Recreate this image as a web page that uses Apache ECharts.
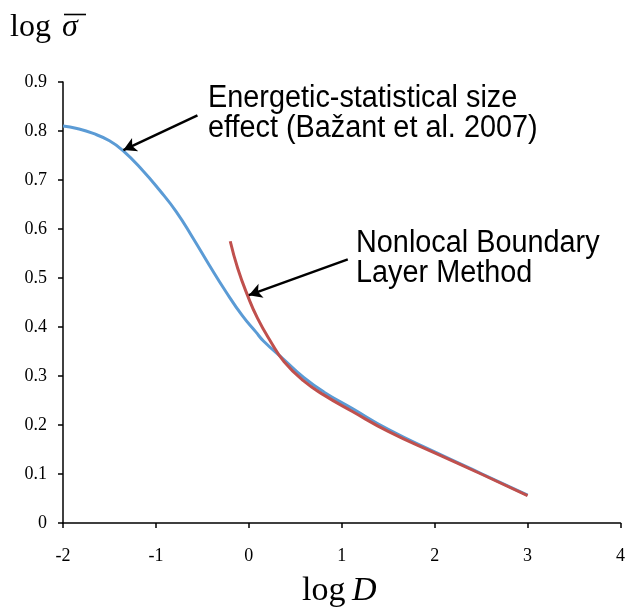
<!DOCTYPE html>
<html>
<head>
<meta charset="utf-8">
<script src="https://cdn.jsdelivr.net/npm/echarts@6/dist/echarts.min.js"></script>
<style>
  html, body { margin: 0; padding: 0; background: #fff; }
  #chart { width: 628px; height: 608px; }
</style>
</head>
<body>
<div id="chart"></div>
<script>
// size effect curves
var blueX = [-2, -1.85, -1.675, -1.5, -1.354, -1.14, -0.96, -0.78, -0.6, -0.425, -0.25, -0.07, 0.075, 0.16, 0.38, 0.59, 0.81, 1.11, 1.5, 2, 2.5, 3];
var blueY = [0.810, 0.805, 0.795, 0.780, 0.760, 0.719, 0.679, 0.635, 0.581, 0.526, 0.473, 0.423, 0.390, 0.371, 0.333, 0.297, 0.267, 0.234, 0.191, 0.145, 0.101, 0.057];
var redX = [-0.2, -0.12, -0.015, 0.093, 0.236, 0.38, 0.59, 0.81, 1.11, 1.5, 2, 2.5, 3];
var redY = [0.575, 0.520, 0.465, 0.418, 0.370, 0.329, 0.290, 0.261, 0.228, 0.187, 0.143, 0.100, 0.056];
var xTicks = [-2, -1, 0, 1, 2, 3, 4];
var yTicks = [0, 0.1, 0.2, 0.3, 0.4, 0.5, 0.6, 0.7, 0.8, 0.9];
// arrows: [from, to] in data units
var arrow1 = [[-0.553, 0.832], [-1.35, 0.761]];
var arrow2 = [[1.065, 0.538], [0.0, 0.465]];

function pairs(xs, ys) {
  return xs.map(function (x, i) { return [x, ys[i]]; });
}

var chart = echarts.init(document.getElementById('chart'));
var axisLine = { color: '#000', width: 1.5 };
var labelFont = { color: '#000', fontFamily: 'Liberation Serif', fontSize: 18 };
var noteFont = { fill: '#000', fontFamily: 'Liberation Sans', fontSize: 31, lineHeight: 30 };

chart.setOption({
  animation: false,
  grid: { left: 63, right: 5, top: 82, bottom: 85 },
  xAxis: {
    type: 'value', min: xTicks[0], max: xTicks[xTicks.length - 1], interval: 1,
    axisLine: { lineStyle: axisLine }, axisTick: { show: true, length: 5, lineStyle: axisLine },
    axisLabel: Object.assign({ margin: 24 }, labelFont), splitLine: { show: false }
  },
  yAxis: {
    type: 'value', min: yTicks[0], max: yTicks[yTicks.length - 1], interval: 0.1,
    axisLine: { show: true, onZero: false, lineStyle: axisLine },
    axisTick: { show: true, length: 5, lineStyle: axisLine },
    axisLabel: Object.assign({ margin: 16, formatter: function (v) { return +v.toFixed(1) + ''; } }, labelFont),
    splitLine: { show: false }
  },
  series: [
    {
      type: 'line', data: pairs(blueX, blueY), smooth: 0.5, showSymbol: false,
      lineStyle: { color: '#5b9bd5', width: 3 }, z: 2,
      markLine: {
        silent: true, symbol: ['none', 'arrow'], symbolSize: [11, 13],
        lineStyle: { color: '#000', width: 2.5, type: 'solid' }, label: { show: false },
        data: [
          [{ coord: arrow1[0] }, { coord: arrow1[1] }],
          [{ coord: arrow2[0] }, { coord: arrow2[1] }]
        ]
      }
    },
    {
      type: 'line', data: pairs(redX, redY), smooth: 0.5, showSymbol: false,
      lineStyle: { color: '#c0504d', width: 3 }, z: 3
    }
  ],
  graphic: [
    { type: 'text', x: 10, y: 12, style: { text: 'log', fill: '#000', fontFamily: 'Liberation Serif', fontSize: 32 } },
    { type: 'text', x: 62, y: 12, style: { text: 'σ', fill: '#000', fontFamily: 'Liberation Serif', fontStyle: 'italic', fontSize: 32 } },
    { type: 'line', shape: { x1: 64, y1: 14.5, x2: 86, y2: 14.5 }, style: { stroke: '#000', lineWidth: 1.6 } },
    { type: 'text', x: 302, y: 574, style: { text: 'log', fill: '#000', fontFamily: 'Liberation Serif', fontSize: 34 } },
    { type: 'text', x: 352, y: 574, style: { text: 'D', fill: '#000', fontFamily: 'Liberation Serif', fontStyle: 'italic', fontSize: 34 } },
    { type: 'text', x: 208, y: 83, scaleX: 0.93, style: Object.assign({ text: 'Energetic-statistical size\neffect (Bažant et al. 2007)' }, noteFont) },
    { type: 'text', x: 356, y: 228, scaleX: 0.93, style: Object.assign({ text: 'Nonlocal Boundary\nLayer Method' }, noteFont) }
  ]
});
</script>
</body>
</html>
